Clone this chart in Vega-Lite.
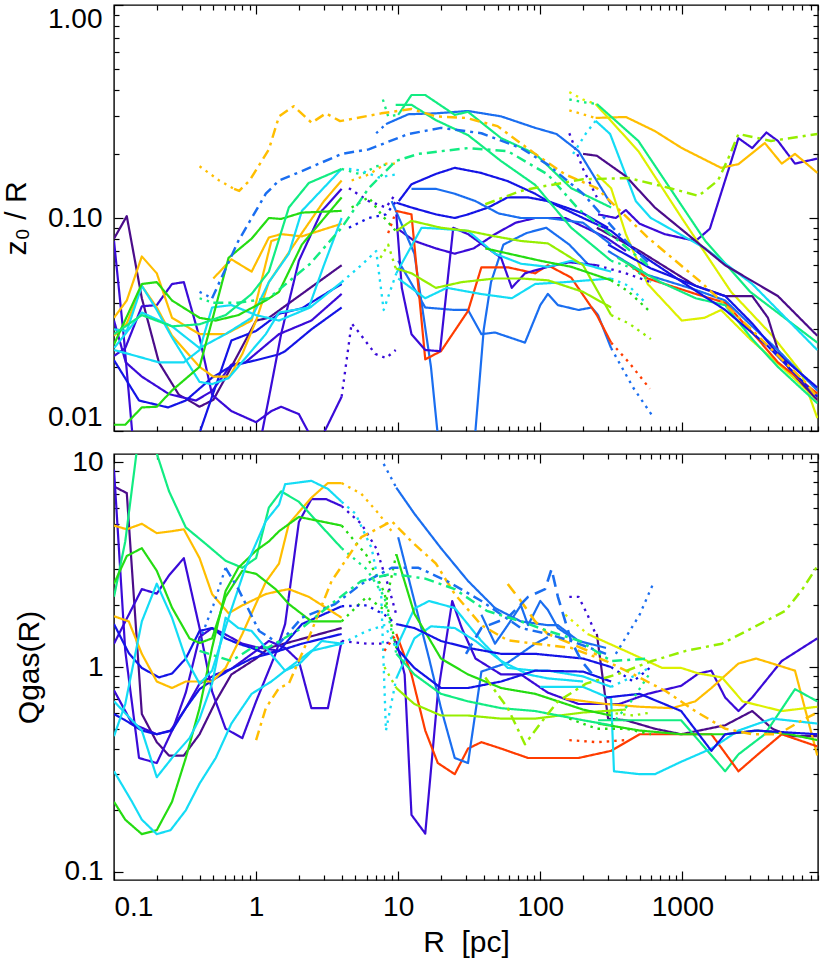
{
"$schema":"https://vega.github.io/schema/vega-lite/v6.json",
"background":"white",
"padding":{"left":0,"top":0,"right":3,"bottom":4},
"spacing":23,
"bounds":"flush",
"config":{
 "font":"Liberation Sans",
 "view":{"stroke":"black","strokeWidth":1.4},
 "axis":{"domain":false,"grid":false,"tickColor":"black","tickWidth":1.2,"labelFont":"Liberation Sans","labelFontSize":28,"labelColor":"black","titleFont":"Liberation Sans","titleFontSize":30,"titleFontWeight":"normal","titleColor":"black","labelOverlap":false,"labelBound":false}
},
"datasets":{
"top":[
{"s":"t1a","c":"or","k":"dt","R":0.4,"v":0.175},{"s":"t1a","c":"or","k":"dt","R":0.55,"v":0.15},{"s":"t1a","c":"or","k":"dt","R":0.7,"v":0.137},
{"s":"t1","c":"or","k":"dd","R":0.7,"v":0.137},{"s":"t1","c":"or","k":"dd","R":0.76,"v":0.134},{"s":"t1","c":"or","k":"dd","R":0.9,"v":0.15},{"s":"t1","c":"or","k":"dd","R":1.23,"v":0.21},{"s":"t1","c":"or","k":"dd","R":1.45,"v":0.3},{"s":"t1","c":"or","k":"dd","R":1.84,"v":0.335},{"s":"t1","c":"or","k":"dd","R":2.46,"v":0.28},{"s":"t1","c":"or","k":"dd","R":3.1,"v":0.31},{"s":"t1","c":"or","k":"dd","R":3.9,"v":0.285},{"s":"t1","c":"or","k":"dd","R":7.6,"v":0.31},{"s":"t1","c":"or","k":"dd","R":12.4,"v":0.325},{"s":"t1","c":"or","k":"dd","R":18.4,"v":0.3},{"s":"t1","c":"or","k":"dd","R":30,"v":0.295},{"s":"t1","c":"or","k":"dd","R":50,"v":0.27},{"s":"t1","c":"or","k":"dd","R":92,"v":0.2},{"s":"t1","c":"or","k":"dd","R":150,"v":0.16},{"s":"t1","c":"or","k":"dd","R":250,"v":0.138},{"s":"t1","c":"or","k":"dd","R":570,"v":0.081},{"s":"t1","c":"or","k":"dd","R":1350,"v":0.05},{"s":"t1","c":"or","k":"dd","R":2900,"v":0.031},{"s":"t1","c":"or","k":"dd","R":7300,"v":0.017},{"s":"t1","c":"or","k":"dd","R":8900,"v":0.0144},
{"s":"t2a","c":"az","k":"dt","R":0.4,"v":0.045},{"s":"t2a","c":"az","k":"dt","R":0.49,"v":0.042},
{"s":"t2","c":"az","k":"dd","R":0.49,"v":0.042},{"s":"t2","c":"az","k":"dd","R":0.75,"v":0.078},{"s":"t2","c":"az","k":"dd","R":1.17,"v":0.13},{"s":"t2","c":"az","k":"dd","R":1.45,"v":0.15},{"s":"t2","c":"az","k":"dd","R":2.1,"v":0.166},{"s":"t2","c":"az","k":"dd","R":4,"v":0.2},{"s":"t2","c":"az","k":"dd","R":6.2,"v":0.21},{"s":"t2","c":"az","k":"dd","R":11.8,"v":0.248},{"s":"t2","c":"az","k":"dd","R":20,"v":0.265},{"s":"t2","c":"az","k":"dd","R":38.5,"v":0.25},{"s":"t2","c":"az","k":"dd","R":73,"v":0.213},{"s":"t2","c":"az","k":"dd","R":113,"v":0.178},{"s":"t2","c":"az","k":"dd","R":200,"v":0.13},{"s":"t2","c":"az","k":"dd","R":340,"v":0.087},{"s":"t2","c":"az","k":"dd","R":600,"v":0.06},
{"s":"t3a","c":"sg","k":"dt","R":0.4,"v":0.042},{"s":"t3a","c":"sg","k":"dt","R":0.5,"v":0.04},
{"s":"t3","c":"sg","k":"dd","R":0.5,"v":0.04},{"s":"t3","c":"sg","k":"dd","R":0.75,"v":0.04},{"s":"t3","c":"sg","k":"dd","R":1.23,"v":0.042},{"s":"t3","c":"sg","k":"dd","R":2.4,"v":0.061},{"s":"t3","c":"sg","k":"dd","R":4,"v":0.09},{"s":"t3","c":"sg","k":"dd","R":6.2,"v":0.138},{"s":"t3","c":"sg","k":"dd","R":9.6,"v":0.185},{"s":"t3","c":"sg","k":"dd","R":13.9,"v":0.2},{"s":"t3","c":"sg","k":"dd","R":31,"v":0.213},{"s":"t3","c":"sg","k":"dd","R":59,"v":0.206},{"s":"t3","c":"sg","k":"dd","R":113,"v":0.16},{"s":"t3","c":"sg","k":"dd","R":186,"v":0.11},{"s":"t3","c":"sg","k":"dd","R":340,"v":0.08},{"s":"t3","c":"sg","k":"dd","R":570,"v":0.06},
{"s":"t4","c":"ch","k":"dd","R":41,"v":0.116},{"s":"t4","c":"ch","k":"dd","R":73,"v":0.134},{"s":"t4","c":"ch","k":"dd","R":100,"v":0.14},{"s":"t4","c":"ch","k":"dd","R":200,"v":0.152},{"s":"t4","c":"ch","k":"dd","R":420,"v":0.154},{"s":"t4","c":"ch","k":"dd","R":820,"v":0.138},{"s":"t4","c":"ch","k":"dd","R":1300,"v":0.127},{"s":"t4","c":"ch","k":"dd","R":1780,"v":0.15},{"s":"t4","c":"ch","k":"dd","R":2100,"v":0.19},{"s":"t4","c":"ch","k":"dd","R":2480,"v":0.248},{"s":"t4","c":"ch","k":"dd","R":4200,"v":0.23},{"s":"t4","c":"ch","k":"dd","R":8900,"v":0.248},
{"s":"t5a","c":"vi","k":"dt","R":160,"v":0.25},{"s":"t5a","c":"vi","k":"dt","R":200,"v":0.17},{"s":"t5a","c":"vi","k":"dt","R":250,"v":0.125},
{"s":"t5","c":"vi","k":"so","R":255,"v":0.104},{"s":"t5","c":"vi","k":"so","R":340,"v":0.1},{"s":"t5","c":"vi","k":"so","R":400,"v":0.109},{"s":"t5","c":"vi","k":"so","R":500,"v":0.094},{"s":"t5","c":"vi","k":"so","R":750,"v":0.084},{"s":"t5","c":"vi","k":"so","R":1240,"v":0.078},{"s":"t5","c":"vi","k":"so","R":1560,"v":0.089},{"s":"t5","c":"vi","k":"so","R":2480,"v":0.237},{"s":"t5","c":"vi","k":"so","R":3100,"v":0.213},{"s":"t5","c":"vi","k":"so","R":3900,"v":0.252},{"s":"t5","c":"vi","k":"so","R":4700,"v":0.23},{"s":"t5","c":"vi","k":"so","R":6200,"v":0.18},{"s":"t5","c":"vi","k":"so","R":8900,"v":0.19},
{"s":"t6a","c":"or","k":"dt","R":160,"v":0.32},{"s":"t6a","c":"or","k":"dt","R":245,"v":0.295},
{"s":"t6","c":"or","k":"so","R":245,"v":0.295},{"s":"t6","c":"or","k":"so","R":400,"v":0.298},{"s":"t6","c":"or","k":"so","R":640,"v":0.256},{"s":"t6","c":"or","k":"so","R":990,"v":0.213},{"s":"t6","c":"or","k":"so","R":1870,"v":0.172},{"s":"t6","c":"or","k":"so","R":2480,"v":0.179},{"s":"t6","c":"or","k":"so","R":3800,"v":0.225},{"s":"t6","c":"or","k":"so","R":5000,"v":0.18},{"s":"t6","c":"or","k":"so","R":6200,"v":0.2},{"s":"t6","c":"or","k":"so","R":8900,"v":0.163},
{"s":"t7a","c":"ye","k":"dt","R":160,"v":0.39},{"s":"t7a","c":"ye","k":"dt","R":200,"v":0.36},{"s":"t7a","c":"ye","k":"dt","R":245,"v":0.343},
{"s":"t7","c":"ye","k":"so","R":245,"v":0.343},{"s":"t7","c":"ye","k":"so","R":490,"v":0.206},{"s":"t7","c":"ye","k":"so","R":990,"v":0.1},{"s":"t7","c":"ye","k":"so","R":2200,"v":0.045},{"s":"t7","c":"ye","k":"so","R":4300,"v":0.028},{"s":"t7","c":"ye","k":"so","R":6800,"v":0.019},{"s":"t7","c":"ye","k":"so","R":8900,"v":0.0115},
{"s":"t7b","c":"ye","k":"so","R":250,"v":0.16},{"s":"t7b","c":"ye","k":"so","R":315,"v":0.138},{"s":"t7b","c":"ye","k":"so","R":400,"v":0.084},{"s":"t7b","c":"ye","k":"so","R":570,"v":0.049},{"s":"t7b","c":"ye","k":"so","R":990,"v":0.033},{"s":"t7b","c":"ye","k":"so","R":1430,"v":0.034},{"s":"t7b","c":"ye","k":"so","R":1870,"v":0.037},{"s":"t7b","c":"ye","k":"so","R":3000,"v":0.027},{"s":"t7b","c":"ye","k":"so","R":5000,"v":0.02},{"s":"t7b","c":"ye","k":"so","R":8900,"v":0.014},
{"s":"t8a","c":"sg","k":"dt","R":160,"v":0.36},{"s":"t8a","c":"sg","k":"dt","R":200,"v":0.35},{"s":"t8a","c":"sg","k":"dt","R":250,"v":0.343},
{"s":"t8","c":"sg","k":"so","R":250,"v":0.343},{"s":"t8","c":"sg","k":"so","R":490,"v":0.23},{"s":"t8","c":"sg","k":"so","R":1450,"v":0.078},{"s":"t8","c":"sg","k":"so","R":3000,"v":0.045},{"s":"t8","c":"sg","k":"so","R":8900,"v":0.026},
{"s":"t9a","c":"cy","k":"dt","R":170,"v":0.2},{"s":"t9a","c":"cy","k":"dt","R":210,"v":0.25},{"s":"t9a","c":"cy","k":"dt","R":245,"v":0.286},
{"s":"t9","c":"cy","k":"so","R":245,"v":0.286},{"s":"t9","c":"cy","k":"so","R":310,"v":0.248},{"s":"t9","c":"cy","k":"so","R":470,"v":0.12},{"s":"t9","c":"cy","k":"so","R":600,"v":0.1},{"s":"t9","c":"cy","k":"so","R":1450,"v":0.072},{"s":"t9","c":"cy","k":"so","R":3100,"v":0.049},{"s":"t9","c":"cy","k":"so","R":8900,"v":0.024},
{"s":"t10","c":"pu","k":"so","R":200,"v":0.2},{"s":"t10","c":"pu","k":"so","R":250,"v":0.196},{"s":"t10","c":"pu","k":"so","R":400,"v":0.157},{"s":"t10","c":"pu","k":"so","R":640,"v":0.112},{"s":"t10","c":"pu","k":"so","R":1240,"v":0.078},{"s":"t10","c":"pu","k":"so","R":2000,"v":0.06},{"s":"t10","c":"pu","k":"so","R":4700,"v":0.043},{"s":"t10","c":"pu","k":"so","R":8900,"v":0.028},
{"s":"t11","c":"pu","k":"so","R":250,"v":0.09},{"s":"t11","c":"pu","k":"so","R":500,"v":0.07},{"s":"t11","c":"pu","k":"so","R":1240,"v":0.048},{"s":"t11","c":"pu","k":"so","R":2000,"v":0.043},{"s":"t11","c":"pu","k":"so","R":3100,"v":0.043},{"s":"t11","c":"pu","k":"so","R":4000,"v":0.034},{"s":"t11","c":"pu","k":"so","R":4700,"v":0.024},{"s":"t11","c":"pu","k":"so","R":5800,"v":0.019},{"s":"t11","c":"pu","k":"so","R":8900,"v":0.014},
{"s":"b1","c":"rd","k":"so","R":400,"v":0.062},{"s":"b1","c":"rd","k":"so","R":570,"v":0.052},{"s":"b1","c":"rd","k":"so","R":1240,"v":0.044},{"s":"b1","c":"rd","k":"so","R":2000,"v":0.04},{"s":"b1","c":"rd","k":"so","R":3100,"v":0.029},{"s":"b1","c":"rd","k":"so","R":4700,"v":0.021},{"s":"b1","c":"rd","k":"so","R":8900,"v":0.015},
{"s":"b2","c":"az","k":"so","R":300,"v":0.07},{"s":"b2","c":"az","k":"so","R":570,"v":0.054},{"s":"b2","c":"az","k":"so","R":1240,"v":0.046},{"s":"b2","c":"az","k":"so","R":2000,"v":0.041},{"s":"b2","c":"az","k":"so","R":3100,"v":0.031},{"s":"b2","c":"az","k":"so","R":4700,"v":0.024},{"s":"b2","c":"az","k":"so","R":8900,"v":0.0155},
{"s":"b3","c":"sg","k":"so","R":350,"v":0.065},{"s":"b3","c":"sg","k":"so","R":700,"v":0.05},{"s":"b3","c":"sg","k":"so","R":1240,"v":0.042},{"s":"b3","c":"sg","k":"so","R":2000,"v":0.039},{"s":"b3","c":"sg","k":"so","R":3100,"v":0.027},{"s":"b3","c":"sg","k":"so","R":4700,"v":0.02},{"s":"b3","c":"sg","k":"so","R":8900,"v":0.0135},
{"s":"b4","c":"bl","k":"so","R":300,"v":0.075},{"s":"b4","c":"bl","k":"so","R":600,"v":0.058},{"s":"b4","c":"bl","k":"so","R":1240,"v":0.048},{"s":"b4","c":"bl","k":"so","R":2000,"v":0.043},{"s":"b4","c":"bl","k":"so","R":3100,"v":0.032},{"s":"b4","c":"bl","k":"so","R":4700,"v":0.023},{"s":"b4","c":"bl","k":"so","R":8900,"v":0.016},
{"s":"m1","c":"bl","k":"so","R":10.1,"v":0.12},{"s":"m1","c":"bl","k":"so","R":12.4,"v":0.144},{"s":"m1","c":"bl","k":"so","R":18.4,"v":0.161},{"s":"m1","c":"bl","k":"so","R":25,"v":0.172},{"s":"m1","c":"bl","k":"so","R":38,"v":0.163},{"s":"m1","c":"bl","k":"so","R":59,"v":0.149},{"s":"m1","c":"bl","k":"so","R":92,"v":0.13},{"s":"m1","c":"bl","k":"so","R":113,"v":0.12},{"s":"m1","c":"bl","k":"so","R":200,"v":0.1},{"s":"m1","c":"bl","k":"so","R":315,"v":0.087},{"s":"m1","c":"bl","k":"so","R":500,"v":0.068},{"s":"m1","c":"bl","k":"so","R":1000,"v":0.05},{"s":"m1","c":"bl","k":"so","R":2000,"v":0.037},{"s":"m1","c":"bl","k":"so","R":4000,"v":0.025},{"s":"m1","c":"bl","k":"so","R":8900,"v":0.0145},
{"s":"m2","c":"bl","k":"so","R":9.7,"v":0.118},{"s":"m2","c":"bl","k":"so","R":12.4,"v":0.112},{"s":"m2","c":"bl","k":"so","R":18.4,"v":0.104},{"s":"m2","c":"bl","k":"so","R":25,"v":0.1},{"s":"m2","c":"bl","k":"so","R":31,"v":0.104},{"s":"m2","c":"bl","k":"so","R":43,"v":0.112},{"s":"m2","c":"bl","k":"so","R":59,"v":0.125},{"s":"m2","c":"bl","k":"so","R":82,"v":0.125},{"s":"m2","c":"bl","k":"so","R":113,"v":0.12},{"s":"m2","c":"bl","k":"so","R":200,"v":0.105},{"s":"m2","c":"bl","k":"so","R":300,"v":0.09},
{"s":"m3","c":"vi","k":"so","R":9.7,"v":0.09},{"s":"m3","c":"vi","k":"so","R":13,"v":0.078},{"s":"m3","c":"vi","k":"so","R":18.4,"v":0.072},{"s":"m3","c":"vi","k":"so","R":25,"v":0.068},{"s":"m3","c":"vi","k":"so","R":34,"v":0.072},{"s":"m3","c":"vi","k":"so","R":48,"v":0.084},{"s":"m3","c":"vi","k":"so","R":67,"v":0.095},{"s":"m3","c":"vi","k":"so","R":92,"v":0.1},{"s":"m3","c":"vi","k":"so","R":150,"v":0.1},{"s":"m3","c":"vi","k":"so","R":290,"v":0.081},{"s":"m3","c":"vi","k":"so","R":400,"v":0.07},
{"s":"m4a","c":"az","k":"dt","R":7,"v":0.25},{"s":"m4a","c":"az","k":"dt","R":8.2,"v":0.276},
{"s":"m4","c":"az","k":"so","R":8.2,"v":0.276},{"s":"m4","c":"az","k":"so","R":11.8,"v":0.307},{"s":"m4","c":"az","k":"so","R":18.4,"v":0.31},{"s":"m4","c":"az","k":"so","R":31,"v":0.318},{"s":"m4","c":"az","k":"so","R":53,"v":0.3},{"s":"m4","c":"az","k":"so","R":92,"v":0.265},{"s":"m4","c":"az","k":"so","R":130,"v":0.248},{"s":"m4","c":"az","k":"so","R":186,"v":0.206},{"s":"m4","c":"az","k":"so","R":315,"v":0.116},
{"s":"m5","c":"az","k":"so","R":12.4,"v":0.137},{"s":"m5","c":"az","k":"so","R":18.4,"v":0.137},{"s":"m5","c":"az","k":"so","R":25,"v":0.13},{"s":"m5","c":"az","k":"so","R":35,"v":0.12},{"s":"m5","c":"az","k":"so","R":51,"v":0.105},{"s":"m5","c":"az","k":"so","R":73,"v":0.1},{"s":"m5","c":"az","k":"so","R":113,"v":0.1},{"s":"m5","c":"az","k":"so","R":200,"v":0.095},{"s":"m5","c":"az","k":"so","R":315,"v":0.075},
{"s":"m6","c":"az","k":"so","R":9,"v":0.12},{"s":"m6","c":"az","k":"so","R":13,"v":0.068},{"s":"m6","c":"az","k":"so","R":17,"v":0.02},{"s":"m6","c":"az","k":"so","R":19.5,"v":0.008},
{"s":"m7","c":"az","k":"so","R":34,"v":0.008},{"s":"m7","c":"az","k":"so","R":40,"v":0.03},{"s":"m7","c":"az","k":"so","R":45,"v":0.05},{"s":"m7","c":"az","k":"so","R":55,"v":0.075},{"s":"m7","c":"az","k":"so","R":80,"v":0.085},{"s":"m7","c":"az","k":"so","R":110,"v":0.09},{"s":"m7","c":"az","k":"so","R":160,"v":0.075},{"s":"m7","c":"az","k":"so","R":220,"v":0.06},
{"s":"m8","c":"az","k":"so","R":10,"v":0.063},{"s":"m8","c":"az","k":"so","R":15.5,"v":0.038},{"s":"m8","c":"az","k":"so","R":25,"v":0.037},{"s":"m8","c":"az","k":"so","R":31,"v":0.037},{"s":"m8","c":"az","k":"so","R":38.5,"v":0.0285},{"s":"m8","c":"az","k":"so","R":48,"v":0.029},{"s":"m8","c":"az","k":"so","R":78,"v":0.026},{"s":"m8","c":"az","k":"so","R":100,"v":0.039},{"s":"m8","c":"az","k":"so","R":113,"v":0.044},{"s":"m8","c":"az","k":"so","R":133,"v":0.039},{"s":"m8","c":"az","k":"so","R":186,"v":0.037},{"s":"m8","c":"az","k":"so","R":230,"v":0.038},{"s":"m8","c":"az","k":"so","R":255,"v":0.035},{"s":"m8","c":"az","k":"so","R":315,"v":0.0245},
{"s":"m8a","c":"az","k":"dt","R":315,"v":0.0245},{"s":"m8a","c":"az","k":"dt","R":450,"v":0.016},{"s":"m8a","c":"az","k":"dt","R":630,"v":0.0115},
{"s":"m9","c":"rd","k":"so","R":9.7,"v":0.108},{"s":"m9","c":"rd","k":"so","R":12.4,"v":0.104},{"s":"m9","c":"rd","k":"so","R":15.5,"v":0.0217},{"s":"m9","c":"rd","k":"so","R":20,"v":0.0237},{"s":"m9","c":"rd","k":"so","R":31,"v":0.0366},{"s":"m9","c":"rd","k":"so","R":38.5,"v":0.0587},{"s":"m9","c":"rd","k":"so","R":59,"v":0.0587},{"s":"m9","c":"rd","k":"so","R":92,"v":0.055},{"s":"m9","c":"rd","k":"so","R":113,"v":0.06},{"s":"m9","c":"rd","k":"so","R":165,"v":0.0525},{"s":"m9","c":"rd","k":"so","R":250,"v":0.035},{"s":"m9","c":"rd","k":"so","R":315,"v":0.026},
{"s":"m9a","c":"rd","k":"dt","R":315,"v":0.026},{"s":"m9a","c":"rd","k":"dt","R":420,"v":0.021},{"s":"m9a","c":"rd","k":"dt","R":590,"v":0.0158},
{"s":"m10","c":"vi","k":"so","R":9.7,"v":0.104},{"s":"m10","c":"vi","k":"so","R":10.6,"v":0.047},{"s":"m10","c":"vi","k":"so","R":12.4,"v":0.0285},{"s":"m10","c":"vi","k":"so","R":15.5,"v":0.024},{"s":"m10","c":"vi","k":"so","R":19.7,"v":0.0237},{"s":"m10","c":"vi","k":"so","R":24.4,"v":0.09},{"s":"m10","c":"vi","k":"so","R":31,"v":0.084},{"s":"m10","c":"vi","k":"so","R":53,"v":0.065},{"s":"m10","c":"vi","k":"so","R":63,"v":0.047},{"s":"m10","c":"vi","k":"so","R":78,"v":0.055},{"s":"m10","c":"vi","k":"so","R":113,"v":0.059},{"s":"m10","c":"vi","k":"so","R":160,"v":0.062},{"s":"m10","c":"vi","k":"so","R":250,"v":0.06},
{"s":"m10a","c":"vi","k":"dt","R":250,"v":0.06},{"s":"m10a","c":"vi","k":"dt","R":400,"v":0.055},{"s":"m10a","c":"vi","k":"dt","R":600,"v":0.05},
{"s":"m11","c":"cy","k":"so","R":9.7,"v":0.055},{"s":"m11","c":"cy","k":"so","R":14.6,"v":0.09},{"s":"m11","c":"cy","k":"so","R":20,"v":0.089},{"s":"m11","c":"cy","k":"so","R":31,"v":0.087},{"s":"m11","c":"cy","k":"so","R":48,"v":0.068},{"s":"m11","c":"cy","k":"so","R":73,"v":0.061},{"s":"m11","c":"cy","k":"so","R":113,"v":0.059},{"s":"m11","c":"cy","k":"so","R":165,"v":0.063},{"s":"m11","c":"cy","k":"so","R":315,"v":0.056},
{"s":"m12","c":"cy","k":"so","R":10,"v":0.052},{"s":"m12","c":"cy","k":"so","R":15.5,"v":0.042},{"s":"m12","c":"cy","k":"so","R":22,"v":0.047},{"s":"m12","c":"cy","k":"so","R":38,"v":0.044},{"s":"m12","c":"cy","k":"so","R":63,"v":0.042},{"s":"m12","c":"cy","k":"so","R":92,"v":0.049},{"s":"m12","c":"cy","k":"so","R":150,"v":0.05},{"s":"m12","c":"cy","k":"so","R":315,"v":0.052},
{"s":"m12a","c":"cy","k":"dt","R":315,"v":0.052},{"s":"m12a","c":"cy","k":"dt","R":420,"v":0.048},{"s":"m12a","c":"cy","k":"dt","R":550,"v":0.04},
{"s":"m13","c":"ch","k":"so","R":9.7,"v":0.087},{"s":"m13","c":"ch","k":"so","R":12.4,"v":0.097},{"s":"m13","c":"ch","k":"so","R":20,"v":0.09},{"s":"m13","c":"ch","k":"so","R":31,"v":0.087},{"s":"m13","c":"ch","k":"so","R":48,"v":0.082},{"s":"m13","c":"ch","k":"so","R":73,"v":0.078},{"s":"m13","c":"ch","k":"so","R":113,"v":0.076},{"s":"m13","c":"ch","k":"so","R":200,"v":0.06},{"s":"m13","c":"ch","k":"so","R":315,"v":0.035},
{"s":"m13a","c":"ch","k":"dt","R":315,"v":0.035},{"s":"m13a","c":"ch","k":"dt","R":420,"v":0.032},{"s":"m13a","c":"ch","k":"dt","R":600,"v":0.027},
{"s":"m14","c":"ch","k":"so","R":9.6,"v":0.058},{"s":"m14","c":"ch","k":"so","R":12.4,"v":0.055},{"s":"m14","c":"ch","k":"so","R":18.4,"v":0.047},{"s":"m14","c":"ch","k":"so","R":28,"v":0.05},{"s":"m14","c":"ch","k":"so","R":48,"v":0.052},{"s":"m14","c":"ch","k":"so","R":73,"v":0.052},{"s":"m14","c":"ch","k":"so","R":113,"v":0.051},{"s":"m14","c":"ch","k":"so","R":200,"v":0.045},{"s":"m14","c":"ch","k":"so","R":315,"v":0.038},
{"s":"m15","c":"gr","k":"so","R":41,"v":0.072},{"s":"m15","c":"gr","k":"so","R":100,"v":0.063},{"s":"m15","c":"gr","k":"so","R":165,"v":0.059},{"s":"m15","c":"gr","k":"so","R":315,"v":0.051},
{"s":"m15a","c":"gr","k":"dt","R":315,"v":0.051},{"s":"m15a","c":"gr","k":"dt","R":420,"v":0.045},{"s":"m15a","c":"gr","k":"dt","R":600,"v":0.036},
{"s":"m16a","c":"sg","k":"dt","R":7.8,"v":0.36},{"s":"m16a","c":"sg","k":"dt","R":8.5,"v":0.3},{"s":"m16a","c":"sg","k":"dt","R":10,"v":0.305},
{"s":"m16","c":"sg","k":"so","R":10,"v":0.305},{"s":"m16","c":"sg","k":"so","R":12.4,"v":0.378},{"s":"m16","c":"sg","k":"so","R":15.5,"v":0.378},{"s":"m16","c":"sg","k":"so","R":25,"v":0.305},{"s":"m16","c":"sg","k":"so","R":31,"v":0.315},{"s":"m16","c":"sg","k":"so","R":53,"v":0.237},{"s":"m16","c":"sg","k":"so","R":92,"v":0.2},{"s":"m16","c":"sg","k":"so","R":100,"v":0.19},{"s":"m16","c":"sg","k":"so","R":165,"v":0.138},{"s":"m16","c":"sg","k":"so","R":315,"v":0.112},
{"s":"m17","c":"sg","k":"so","R":9.6,"v":0.34},{"s":"m17","c":"sg","k":"so","R":12.4,"v":0.34},{"s":"m17","c":"sg","k":"so","R":18.4,"v":0.288},{"s":"m17","c":"sg","k":"so","R":31,"v":0.245},{"s":"m17","c":"sg","k":"so","R":53,"v":0.185},{"s":"m17","c":"sg","k":"so","R":92,"v":0.143},{"s":"m17","c":"sg","k":"so","R":165,"v":0.09},{"s":"m17","c":"sg","k":"so","R":315,"v":0.063},
{"s":"m17a","c":"sg","k":"dt","R":315,"v":0.063},{"s":"m17a","c":"sg","k":"dt","R":450,"v":0.058},{"s":"m17a","c":"sg","k":"dt","R":600,"v":0.05},
{"s":"l1","c":"pu","k":"so","R":0.1,"v":0.08},{"s":"l1","c":"pu","k":"so","R":0.123,"v":0.102},{"s":"l1","c":"pu","k":"so","R":0.157,"v":0.042},{"s":"l1","c":"pu","k":"so","R":0.207,"v":0.021},{"s":"l1","c":"pu","k":"so","R":0.286,"v":0.0148},{"s":"l1","c":"pu","k":"so","R":0.4,"v":0.013},{"s":"l1","c":"pu","k":"so","R":0.5,"v":0.014},{"s":"l1","c":"pu","k":"so","R":0.67,"v":0.02},{"s":"l1","c":"pu","k":"so","R":1,"v":0.033},{"s":"l1","c":"pu","k":"so","R":1.23,"v":0.034},{"s":"l1","c":"pu","k":"so","R":2,"v":0.043},{"s":"l1","c":"pu","k":"so","R":4,"v":0.06},
{"s":"l2","c":"vi","k":"so","R":0.1,"v":0.078},{"s":"l2","c":"vi","k":"so","R":0.117,"v":0.028},{"s":"l2","c":"vi","k":"so","R":0.135,"v":0.0095},
{"s":"l3","c":"vi","k":"so","R":0.1,"v":0.033},{"s":"l3","c":"vi","k":"so","R":0.121,"v":0.021},{"s":"l3","c":"vi","k":"so","R":0.157,"v":0.018},{"s":"l3","c":"vi","k":"so","R":0.244,"v":0.0149},{"s":"l3","c":"vi","k":"so","R":0.377,"v":0.0139},{"s":"l3","c":"vi","k":"so","R":0.49,"v":0.0154},{"s":"l3","c":"vi","k":"so","R":0.67,"v":0.0205},{"s":"l3","c":"vi","k":"so","R":0.84,"v":0.021},{"s":"l3","c":"vi","k":"so","R":1.45,"v":0.0285},{"s":"l3","c":"vi","k":"so","R":2.45,"v":0.033},{"s":"l3","c":"vi","k":"so","R":4,"v":0.044},
{"s":"l4","c":"vi","k":"so","R":0.1,"v":0.0225},{"s":"l4","c":"vi","k":"so","R":0.12,"v":0.0245},{"s":"l4","c":"vi","k":"so","R":0.157,"v":0.0385},{"s":"l4","c":"vi","k":"so","R":0.2,"v":0.039},{"s":"l4","c":"vi","k":"so","R":0.256,"v":0.049},{"s":"l4","c":"vi","k":"so","R":0.31,"v":0.05},{"s":"l4","c":"vi","k":"so","R":0.4,"v":0.0275},{"s":"l4","c":"vi","k":"so","R":0.49,"v":0.0148},{"s":"l4","c":"vi","k":"so","R":0.67,"v":0.0124},{"s":"l4","c":"vi","k":"so","R":1,"v":0.011},{"s":"l4","c":"vi","k":"so","R":1.28,"v":0.0124},{"s":"l4","c":"vi","k":"so","R":1.5,"v":0.013},{"s":"l4","c":"vi","k":"so","R":2,"v":0.012},{"s":"l4","c":"vi","k":"so","R":2.35,"v":0.0098},
{"s":"l4b","c":"vi","k":"so","R":3,"v":0.0098},{"s":"l4b","c":"vi","k":"so","R":4,"v":0.0145},
{"s":"l4c","c":"vi","k":"dt","R":4,"v":0.0145},{"s":"l4c","c":"vi","k":"dt","R":4.7,"v":0.032},{"s":"l4c","c":"vi","k":"dt","R":5.3,"v":0.029},{"s":"l4c","c":"vi","k":"dt","R":6.9,"v":0.023},{"s":"l4c","c":"vi","k":"dt","R":8.2,"v":0.022},{"s":"l4c","c":"vi","k":"dt","R":9.6,"v":0.024},
{"s":"l5","c":"bl","k":"so","R":0.1,"v":0.0215},{"s":"l5","c":"bl","k":"so","R":0.15,"v":0.0139},{"s":"l5","c":"bl","k":"so","R":0.24,"v":0.0129},{"s":"l5","c":"bl","k":"so","R":0.32,"v":0.0139},{"s":"l5","c":"bl","k":"so","R":0.49,"v":0.0178},{"s":"l5","c":"bl","k":"so","R":0.67,"v":0.0202},{"s":"l5","c":"bl","k":"so","R":1,"v":0.0215},{"s":"l5","c":"bl","k":"so","R":1.45,"v":0.0229},{"s":"l5","c":"bl","k":"so","R":1.6,"v":0.0237},{"s":"l5","c":"bl","k":"so","R":2.45,"v":0.03},{"s":"l5","c":"bl","k":"so","R":4,"v":0.038},
{"s":"l6","c":"bl","k":"so","R":0.4,"v":0.0098},{"s":"l6","c":"bl","k":"so","R":0.67,"v":0.0266},{"s":"l6","c":"bl","k":"so","R":1,"v":0.0295},{"s":"l6","c":"bl","k":"so","R":1.45,"v":0.0355},{"s":"l6","c":"bl","k":"so","R":2.1,"v":0.0377},{"s":"l6","c":"bl","k":"so","R":4,"v":0.049},
{"s":"l7","c":"vi","k":"so","R":1.1,"v":0.0098},{"s":"l7","c":"vi","k":"so","R":1.23,"v":0.0143},{"s":"l7","c":"vi","k":"so","R":1.5,"v":0.0285},{"s":"l7","c":"vi","k":"so","R":2,"v":0.063},{"s":"l7","c":"vi","k":"so","R":2.9,"v":0.108},{"s":"l7","c":"vi","k":"so","R":4,"v":0.137},
{"s":"l8","c":"or","k":"so","R":0.1,"v":0.034},{"s":"l8","c":"or","k":"so","R":0.123,"v":0.041},{"s":"l8","c":"or","k":"so","R":0.157,"v":0.066},{"s":"l8","c":"or","k":"so","R":0.2,"v":0.055},{"s":"l8","c":"or","k":"so","R":0.256,"v":0.034},{"s":"l8","c":"or","k":"so","R":0.4,"v":0.0285},{"s":"l8","c":"or","k":"so","R":0.61,"v":0.0285},{"s":"l8","c":"or","k":"so","R":0.93,"v":0.033},{"s":"l8","c":"or","k":"so","R":1.28,"v":0.078},{"s":"l8","c":"or","k":"so","R":1.45,"v":0.08},
{"s":"l9","c":"or","k":"so","R":0.1,"v":0.028},{"s":"l9","c":"or","k":"so","R":0.123,"v":0.032},{"s":"l9","c":"or","k":"so","R":0.157,"v":0.048},{"s":"l9","c":"or","k":"so","R":0.2,"v":0.038},{"s":"l9","c":"or","k":"so","R":0.256,"v":0.028},{"s":"l9","c":"or","k":"so","R":0.4,"v":0.02},{"s":"l9","c":"or","k":"so","R":0.5,"v":0.018},{"s":"l9","c":"or","k":"so","R":0.65,"v":0.018},{"s":"l9","c":"or","k":"so","R":0.8,"v":0.023},{"s":"l9","c":"or","k":"so","R":1,"v":0.033},{"s":"l9","c":"or","k":"so","R":1.23,"v":0.05},{"s":"l9","c":"or","k":"so","R":2.1,"v":0.085},{"s":"l9","c":"or","k":"so","R":3,"v":0.12},{"s":"l9","c":"or","k":"so","R":4,"v":0.15},
{"s":"l10","c":"or","k":"so","R":0.5,"v":0.052},{"s":"l10","c":"or","k":"so","R":0.67,"v":0.064},{"s":"l10","c":"or","k":"so","R":0.93,"v":0.056},{"s":"l10","c":"or","k":"so","R":1.23,"v":0.081},{"s":"l10","c":"or","k":"so","R":1.5,"v":0.084},{"s":"l10","c":"or","k":"so","R":2.1,"v":0.082},{"s":"l10","c":"or","k":"so","R":4,"v":0.094},
{"s":"l11","c":"cy","k":"so","R":0.1,"v":0.0245},{"s":"l11","c":"cy","k":"so","R":0.12,"v":0.0285},{"s":"l11","c":"cy","k":"so","R":0.157,"v":0.036},{"s":"l11","c":"cy","k":"so","R":0.256,"v":0.031},{"s":"l11","c":"cy","k":"so","R":0.4,"v":0.0245},{"s":"l11","c":"cy","k":"so","R":0.61,"v":0.0285},{"s":"l11","c":"cy","k":"so","R":0.93,"v":0.034},{"s":"l11","c":"cy","k":"so","R":1.23,"v":0.05},{"s":"l11","c":"cy","k":"so","R":1.7,"v":0.068},{"s":"l11","c":"cy","k":"so","R":2.1,"v":0.108},{"s":"l11","c":"cy","k":"so","R":4,"v":0.17},
{"s":"l12","c":"cy","k":"so","R":0.1,"v":0.03},{"s":"l12","c":"cy","k":"so","R":0.123,"v":0.0295},{"s":"l12","c":"cy","k":"so","R":0.157,"v":0.048},{"s":"l12","c":"cy","k":"so","R":0.2,"v":0.037},{"s":"l12","c":"cy","k":"so","R":0.256,"v":0.0275},{"s":"l12","c":"cy","k":"so","R":0.4,"v":0.017},{"s":"l12","c":"cy","k":"so","R":0.49,"v":0.0166},{"s":"l12","c":"cy","k":"so","R":0.64,"v":0.0177},{"s":"l12","c":"cy","k":"so","R":0.89,"v":0.023},{"s":"l12","c":"cy","k":"so","R":1.17,"v":0.0285},{"s":"l12","c":"cy","k":"so","R":1.45,"v":0.036},{"s":"l12","c":"cy","k":"so","R":2.35,"v":0.038},{"s":"l12","c":"cy","k":"so","R":3,"v":0.06},{"s":"l12","c":"cy","k":"so","R":4,"v":0.1},
{"s":"l13","c":"cy","k":"so","R":0.1,"v":0.024},{"s":"l13","c":"cy","k":"so","R":0.127,"v":0.023},{"s":"l13","c":"cy","k":"so","R":0.207,"v":0.021},{"s":"l13","c":"cy","k":"so","R":0.31,"v":0.021},{"s":"l13","c":"cy","k":"so","R":0.4,"v":0.024},{"s":"l13","c":"cy","k":"so","R":0.49,"v":0.038},{"s":"l13","c":"cy","k":"so","R":0.67,"v":0.039},{"s":"l13","c":"cy","k":"so","R":1,"v":0.035},{"s":"l13","c":"cy","k":"so","R":1.45,"v":0.033},{"s":"l13","c":"cy","k":"so","R":2.4,"v":0.038},{"s":"l13","c":"cy","k":"so","R":4,"v":0.05},
{"s":"l14","c":"gr","k":"so","R":0.1,"v":0.0107},{"s":"l14","c":"gr","k":"so","R":0.12,"v":0.0107},{"s":"l14","c":"gr","k":"so","R":0.157,"v":0.0129},{"s":"l14","c":"gr","k":"so","R":0.2,"v":0.013},{"s":"l14","c":"gr","k":"so","R":0.256,"v":0.0155},{"s":"l14","c":"gr","k":"so","R":0.4,"v":0.02},{"s":"l14","c":"gr","k":"so","R":0.49,"v":0.033},{"s":"l14","c":"gr","k":"so","R":0.64,"v":0.065},{"s":"l14","c":"gr","k":"so","R":0.93,"v":0.08},{"s":"l14","c":"gr","k":"so","R":1.23,"v":0.1},{"s":"l14","c":"gr","k":"so","R":1.5,"v":0.099},{"s":"l14","c":"gr","k":"so","R":2.1,"v":0.106},{"s":"l14","c":"gr","k":"so","R":4,"v":0.108},
{"s":"l15","c":"gr","k":"so","R":0.1,"v":0.0255},{"s":"l15","c":"gr","k":"so","R":0.157,"v":0.049},{"s":"l15","c":"gr","k":"so","R":0.2,"v":0.05},{"s":"l15","c":"gr","k":"so","R":0.256,"v":0.041},{"s":"l15","c":"gr","k":"so","R":0.4,"v":0.034},{"s":"l15","c":"gr","k":"so","R":0.52,"v":0.033},{"s":"l15","c":"gr","k":"so","R":0.75,"v":0.035},{"s":"l15","c":"gr","k":"so","R":1.17,"v":0.041},{"s":"l15","c":"gr","k":"so","R":1.45,"v":0.045},{"s":"l15","c":"gr","k":"so","R":2.1,"v":0.075},{"s":"l15","c":"gr","k":"so","R":4,"v":0.125},
{"s":"l16","c":"sg","k":"so","R":0.1,"v":0.0285},{"s":"l16","c":"sg","k":"so","R":0.157,"v":0.035},{"s":"l16","c":"sg","k":"so","R":0.256,"v":0.031},{"s":"l16","c":"sg","k":"so","R":0.4,"v":0.0317},{"s":"l16","c":"sg","k":"so","R":0.61,"v":0.035},{"s":"l16","c":"sg","k":"so","R":0.93,"v":0.044},{"s":"l16","c":"sg","k":"so","R":1.23,"v":0.056},{"s":"l16","c":"sg","k":"so","R":1.7,"v":0.112},{"s":"l16","c":"sg","k":"so","R":2.35,"v":0.146},{"s":"l16","c":"sg","k":"so","R":4,"v":0.17},
{"s":"d1","c":"sg","k":"dt","R":4,"v":0.17},{"s":"d1","c":"sg","k":"dt","R":5.5,"v":0.16},{"s":"d1","c":"sg","k":"dt","R":7,"v":0.175},{"s":"d1","c":"sg","k":"dt","R":9,"v":0.18},
{"s":"d2","c":"cy","k":"dt","R":4.5,"v":0.17},{"s":"d2","c":"cy","k":"dt","R":5.5,"v":0.167},{"s":"d2","c":"cy","k":"dt","R":7.3,"v":0.155},{"s":"d2","c":"cy","k":"dt","R":9.6,"v":0.16},
{"s":"d3","c":"or","k":"dt","R":4.7,"v":0.15},{"s":"d3","c":"or","k":"dt","R":6.2,"v":0.16},{"s":"d3","c":"or","k":"dt","R":8.2,"v":0.18},{"s":"d3","c":"or","k":"dt","R":9.6,"v":0.18},
{"s":"d4","c":"vi","k":"dt","R":4.5,"v":0.138},{"s":"d4","c":"vi","k":"dt","R":6.2,"v":0.12},{"s":"d4","c":"vi","k":"dt","R":8.2,"v":0.112},{"s":"d4","c":"vi","k":"dt","R":9.6,"v":0.13},
{"s":"d5","c":"gr","k":"dt","R":4.7,"v":0.112},{"s":"d5","c":"gr","k":"dt","R":6.2,"v":0.125},{"s":"d5","c":"gr","k":"dt","R":7.6,"v":0.104},{"s":"d5","c":"gr","k":"dt","R":9.6,"v":0.087},
{"s":"d6","c":"bl","k":"dt","R":4.5,"v":0.09},{"s":"d6","c":"bl","k":"dt","R":6.2,"v":0.1},{"s":"d6","c":"bl","k":"dt","R":8.2,"v":0.104},{"s":"d6","c":"bl","k":"dt","R":9.7,"v":0.12},
{"s":"d7","c":"cy","k":"dt","R":4,"v":0.05},{"s":"d7","c":"cy","k":"dt","R":5.5,"v":0.06},{"s":"d7","c":"cy","k":"dt","R":7,"v":0.07},{"s":"d7","c":"cy","k":"dt","R":7.9,"v":0.037},{"s":"d7","c":"cy","k":"dt","R":9.7,"v":0.055},
{"s":"d8","c":"ch","k":"dt","R":7.5,"v":0.065},{"s":"d8","c":"ch","k":"dt","R":8.5,"v":0.075},{"s":"d8","c":"ch","k":"dt","R":9.6,"v":0.058},
{"s":"d9","c":"rd","k":"dt","R":8.5,"v":0.085},{"s":"d9","c":"rd","k":"dt","R":9.7,"v":0.108}
],
"bot":[
{"s":"q1","c":"pu","k":"so","R":0.1,"v":7.6},{"s":"q1","c":"pu","k":"so","R":0.123,"v":7.06},{"s":"q1","c":"pu","k":"so","R":0.157,"v":0.59},{"s":"q1","c":"pu","k":"so","R":0.2,"v":0.43},{"s":"q1","c":"pu","k":"so","R":0.244,"v":0.37},{"s":"q1","c":"pu","k":"so","R":0.31,"v":0.37},{"s":"q1","c":"pu","k":"so","R":0.4,"v":0.47},{"s":"q1","c":"pu","k":"so","R":0.52,"v":0.68},{"s":"q1","c":"pu","k":"so","R":0.67,"v":0.92},{"s":"q1","c":"pu","k":"so","R":1,"v":1.1},{"s":"q1","c":"pu","k":"so","R":1.23,"v":1.24},{"s":"q1","c":"pu","k":"so","R":4,"v":1.55},
{"s":"q1b","c":"vi","k":"dt","R":160,"v":2.2},{"s":"q1b","c":"vi","k":"dt","R":186,"v":2.2},{"s":"q1b","c":"vi","k":"dt","R":215,"v":1.8},{"s":"q1b","c":"vi","k":"dt","R":250,"v":1.4},
{"s":"q1c","c":"pu","k":"so","R":250,"v":1.45},{"s":"q1c","c":"pu","k":"so","R":300,"v":0.56},{"s":"q1c","c":"pu","k":"so","R":400,"v":0.55},{"s":"q1c","c":"pu","k":"so","R":640,"v":0.5},{"s":"q1c","c":"pu","k":"so","R":980,"v":0.47},{"s":"q1c","c":"pu","k":"so","R":2000,"v":0.52},{"s":"q1c","c":"pu","k":"so","R":3100,"v":0.61},{"s":"q1c","c":"pu","k":"so","R":4300,"v":0.5},{"s":"q1c","c":"pu","k":"so","R":5700,"v":0.46},{"s":"q1c","c":"pu","k":"so","R":8900,"v":0.46},
{"s":"q2","c":"vi","k":"so","R":0.1,"v":9.2},{"s":"q2","c":"vi","k":"so","R":0.12,"v":1.2},{"s":"q2","c":"vi","k":"so","R":0.15,"v":0.36},{"s":"q2","c":"vi","k":"so","R":0.2,"v":0.34},{"s":"q2","c":"vi","k":"so","R":0.26,"v":0.5},{"s":"q2","c":"vi","k":"so","R":0.32,"v":0.75},{"s":"q2","c":"vi","k":"so","R":0.4,"v":1.4},{"s":"q2","c":"vi","k":"so","R":0.49,"v":1.55},{"s":"q2","c":"vi","k":"so","R":0.6,"v":1.45},{"s":"q2","c":"vi","k":"so","R":0.8,"v":1.3},{"s":"q2","c":"vi","k":"so","R":1,"v":1.25},{"s":"q2","c":"vi","k":"so","R":1.45,"v":1.2},
{"s":"q3","c":"vi","k":"so","R":0.1,"v":1.3},{"s":"q3","c":"vi","k":"so","R":0.127,"v":1.8},{"s":"q3","c":"vi","k":"so","R":0.157,"v":2.4},{"s":"q3","c":"vi","k":"so","R":0.2,"v":2.28},{"s":"q3","c":"vi","k":"so","R":0.244,"v":2.8},{"s":"q3","c":"vi","k":"so","R":0.31,"v":3.4},{"s":"q3","c":"vi","k":"so","R":0.4,"v":1.55},{"s":"q3","c":"vi","k":"so","R":0.49,"v":0.76},{"s":"q3","c":"vi","k":"so","R":0.61,"v":0.5},{"s":"q3","c":"vi","k":"so","R":0.8,"v":0.45},{"s":"q3","c":"vi","k":"so","R":1,"v":0.68},{"s":"q3","c":"vi","k":"so","R":1.37,"v":1.16},{"s":"q3","c":"vi","k":"so","R":1.6,"v":1.62},{"s":"q3","c":"vi","k":"so","R":2,"v":5.1},{"s":"q3","c":"vi","k":"so","R":2.45,"v":6.6},{"s":"q3","c":"vi","k":"so","R":3.1,"v":6.6},{"s":"q3","c":"vi","k":"so","R":4,"v":6.1},
{"s":"q4","c":"vi","k":"so","R":0.1,"v":0.77},{"s":"q4","c":"vi","k":"so","R":0.134,"v":0.53},{"s":"q4","c":"vi","k":"so","R":0.2,"v":0.47},{"s":"q4","c":"vi","k":"so","R":0.25,"v":0.49},{"s":"q4","c":"vi","k":"so","R":0.32,"v":0.63},{"s":"q4","c":"vi","k":"so","R":0.4,"v":0.83},{"s":"q4","c":"vi","k":"so","R":0.52,"v":0.92},{"s":"q4","c":"vi","k":"so","R":0.67,"v":0.98},{"s":"q4","c":"vi","k":"so","R":1,"v":1.2},{"s":"q4","c":"vi","k":"so","R":1.23,"v":1.34},{"s":"q4","c":"vi","k":"so","R":1.6,"v":1.24},{"s":"q4","c":"vi","k":"so","R":2,"v":1.07},{"s":"q4","c":"vi","k":"so","R":2.45,"v":0.63},{"s":"q4","c":"vi","k":"so","R":3.2,"v":0.63},{"s":"q4","c":"vi","k":"so","R":4,"v":1.34},
{"s":"q5","c":"bl","k":"so","R":0.1,"v":1.62},{"s":"q5","c":"bl","k":"so","R":0.127,"v":1.17},{"s":"q5","c":"bl","k":"so","R":0.157,"v":0.99},{"s":"q5","c":"bl","k":"so","R":0.207,"v":0.89},{"s":"q5","c":"bl","k":"so","R":0.256,"v":0.93},{"s":"q5","c":"bl","k":"so","R":0.32,"v":1.1},{"s":"q5","c":"bl","k":"so","R":0.4,"v":1.5},{"s":"q5","c":"bl","k":"so","R":0.49,"v":1.55},{"s":"q5","c":"bl","k":"so","R":0.61,"v":1.38},{"s":"q5","c":"bl","k":"so","R":0.75,"v":1.3},{"s":"q5","c":"bl","k":"so","R":0.93,"v":1.24},{"s":"q5","c":"bl","k":"so","R":1.17,"v":1.16},{"s":"q5","c":"bl","k":"so","R":1.45,"v":1.2},{"s":"q5","c":"bl","k":"so","R":2.1,"v":1.62},{"s":"q5","c":"bl","k":"so","R":4,"v":1.98},
{"s":"q6","c":"bl","k":"so","R":0.1,"v":0.59},{"s":"q6","c":"bl","k":"so","R":0.12,"v":0.55},{"s":"q6","c":"bl","k":"so","R":0.157,"v":0.49},{"s":"q6","c":"bl","k":"so","R":0.2,"v":0.47},{"s":"q6","c":"bl","k":"so","R":0.256,"v":0.49},{"s":"q6","c":"bl","k":"so","R":0.32,"v":0.63},{"s":"q6","c":"bl","k":"so","R":0.4,"v":0.78},{"s":"q6","c":"bl","k":"so","R":0.49,"v":0.86},{"s":"q6","c":"bl","k":"so","R":0.67,"v":0.98},{"s":"q6","c":"bl","k":"so","R":0.93,"v":1.1},{"s":"q6","c":"bl","k":"so","R":1.45,"v":1.2},{"s":"q6","c":"bl","k":"so","R":2.1,"v":1.3},{"s":"q6","c":"bl","k":"so","R":4,"v":1.45},
{"s":"q7","c":"or","k":"so","R":0.1,"v":4.9},{"s":"q7","c":"or","k":"so","R":0.123,"v":4.7},{"s":"q7","c":"or","k":"so","R":0.157,"v":5},{"s":"q7","c":"or","k":"so","R":0.2,"v":4.5},{"s":"q7","c":"or","k":"so","R":0.256,"v":4.6},{"s":"q7","c":"or","k":"so","R":0.31,"v":4.7},{"s":"q7","c":"or","k":"so","R":0.4,"v":3.4},{"s":"q7","c":"or","k":"so","R":0.49,"v":2.27},{"s":"q7","c":"or","k":"so","R":0.64,"v":1.83},{"s":"q7","c":"or","k":"so","R":0.8,"v":2},{"s":"q7","c":"or","k":"so","R":1.17,"v":2.27},{"s":"q7","c":"or","k":"so","R":1.45,"v":2.35},{"s":"q7","c":"or","k":"so","R":1.7,"v":2.4},{"s":"q7","c":"or","k":"so","R":2.35,"v":2.2},{"s":"q7","c":"or","k":"so","R":4,"v":1.74},
{"s":"q8","c":"or","k":"so","R":0.1,"v":1.77},{"s":"q8","c":"or","k":"so","R":0.127,"v":1.67},{"s":"q8","c":"or","k":"so","R":0.157,"v":1.16},{"s":"q8","c":"or","k":"so","R":0.2,"v":0.85},{"s":"q8","c":"or","k":"so","R":0.256,"v":0.79},{"s":"q8","c":"or","k":"so","R":0.32,"v":0.85},{"s":"q8","c":"or","k":"so","R":0.49,"v":0.85},{"s":"q8","c":"or","k":"so","R":0.61,"v":0.99},{"s":"q8","c":"or","k":"so","R":0.8,"v":1.45},{"s":"q8","c":"or","k":"so","R":1.17,"v":2.6},{"s":"q8","c":"or","k":"so","R":1.45,"v":3.2},{"s":"q8","c":"or","k":"so","R":1.7,"v":5},{"s":"q8","c":"or","k":"so","R":2.45,"v":6.7},{"s":"q8","c":"or","k":"so","R":3.2,"v":7.9},{"s":"q8","c":"or","k":"so","R":4,"v":7.9},
{"s":"q8b","c":"or","k":"dt","R":4,"v":7.9},{"s":"q8b","c":"or","k":"dt","R":5.5,"v":7},{"s":"q8b","c":"or","k":"dt","R":7.3,"v":5.6},{"s":"q8b","c":"or","k":"dt","R":9,"v":4.6},
{"s":"q9","c":"or","k":"dd","R":1,"v":0.44},{"s":"q9","c":"or","k":"dd","R":1.17,"v":0.63},{"s":"q9","c":"or","k":"dd","R":1.45,"v":0.79},{"s":"q9","c":"or","k":"dd","R":1.7,"v":0.83},{"s":"q9","c":"or","k":"dd","R":2.35,"v":1.39},{"s":"q9","c":"or","k":"dd","R":3.4,"v":2.63},{"s":"q9","c":"or","k":"dd","R":5.5,"v":4.3},{"s":"q9","c":"or","k":"dd","R":9,"v":5.15},{"s":"q9","c":"or","k":"dd","R":12.4,"v":4.1},{"s":"q9","c":"or","k":"dd","R":18.4,"v":3.2},{"s":"q9","c":"or","k":"dd","R":25,"v":2.27},{"s":"q9","c":"or","k":"dd","R":38.5,"v":1.6},{"s":"q9","c":"or","k":"dd","R":59,"v":1.35},{"s":"q9","c":"or","k":"dd","R":92,"v":1.3},{"s":"q9","c":"or","k":"dd","R":165,"v":1.24},{"s":"q9","c":"or","k":"dd","R":290,"v":1.07},{"s":"q9","c":"or","k":"dd","R":440,"v":0.93},{"s":"q9","c":"or","k":"dd","R":770,"v":0.76},{"s":"q9","c":"or","k":"dd","R":1230,"v":0.61},{"s":"q9","c":"or","k":"dd","R":2000,"v":0.5},{"s":"q9","c":"or","k":"dd","R":3100,"v":0.47},{"s":"q9","c":"or","k":"dd","R":4700,"v":0.47},{"s":"q9","c":"or","k":"dd","R":7300,"v":0.56},{"s":"q9","c":"or","k":"dd","R":8900,"v":0.6},
{"s":"q9b","c":"or","k":"da","R":59,"v":2.54},{"s":"q9b","c":"or","k":"da","R":73,"v":2.1},{"s":"q9b","c":"or","k":"da","R":92,"v":1.67},{"s":"q9b","c":"or","k":"da","R":113,"v":1.45},{"s":"q9b","c":"or","k":"da","R":165,"v":1.3},{"s":"q9b","c":"or","k":"da","R":250,"v":1.15},
{"s":"q10a","c":"az","k":"dt","R":0.4,"v":1.34},{"s":"q10a","c":"az","k":"dt","R":0.5,"v":2},{"s":"q10a","c":"az","k":"dt","R":0.61,"v":3.05},
{"s":"q10","c":"az","k":"dd","R":0.61,"v":3.05},{"s":"q10","c":"az","k":"dd","R":0.75,"v":2.4},{"s":"q10","c":"az","k":"dd","R":1.05,"v":1.5},{"s":"q10","c":"az","k":"dd","R":1.45,"v":1.3},{"s":"q10","c":"az","k":"dd","R":2.1,"v":1.74},{"s":"q10","c":"az","k":"dd","R":3.6,"v":2.03},{"s":"q10","c":"az","k":"dd","R":5.5,"v":2.54},{"s":"q10","c":"az","k":"dd","R":9,"v":3.05},{"s":"q10","c":"az","k":"dd","R":13.9,"v":3.05},{"s":"q10","c":"az","k":"dd","R":22,"v":2.63},{"s":"q10","c":"az","k":"dd","R":38.5,"v":2.1},{"s":"q10","c":"az","k":"dd","R":73,"v":1.55},{"s":"q10","c":"az","k":"dd","R":113,"v":1.45},{"s":"q10","c":"az","k":"dd","R":165,"v":1.34},{"s":"q10","c":"az","k":"dd","R":290,"v":1.16},
{"s":"q11","c":"az","k":"da","R":30,"v":1.16},{"s":"q11","c":"az","k":"da","R":38.5,"v":1.55},{"s":"q11","c":"az","k":"da","R":59,"v":1.74},{"s":"q11","c":"az","k":"da","R":82,"v":2.2},{"s":"q11","c":"az","k":"da","R":108,"v":2.4},{"s":"q11","c":"az","k":"da","R":120,"v":3},{"s":"q11","c":"az","k":"da","R":133,"v":2.2},{"s":"q11","c":"az","k":"da","R":165,"v":1.34},{"s":"q11","c":"az","k":"da","R":195,"v":1.07},{"s":"q11","c":"az","k":"da","R":230,"v":0.93},
{"s":"q12","c":"sg","k":"dd","R":0.4,"v":1.2},{"s":"q12","c":"sg","k":"dd","R":0.67,"v":1.07},{"s":"q12","c":"sg","k":"dd","R":0.93,"v":1.24},{"s":"q12","c":"sg","k":"dd","R":1.23,"v":1.25},{"s":"q12","c":"sg","k":"dd","R":2.1,"v":1.55},{"s":"q12","c":"sg","k":"dd","R":3.6,"v":2.1},{"s":"q12","c":"sg","k":"dd","R":5.5,"v":2.63},{"s":"q12","c":"sg","k":"dd","R":9,"v":2.85},{"s":"q12","c":"sg","k":"dd","R":15.5,"v":2.7},{"s":"q12","c":"sg","k":"dd","R":25,"v":2.4},{"s":"q12","c":"sg","k":"dd","R":42,"v":1.88},{"s":"q12","c":"sg","k":"dd","R":73,"v":1.67},{"s":"q12","c":"sg","k":"dd","R":113,"v":1.5},{"s":"q12","c":"sg","k":"dd","R":190,"v":1.34},{"s":"q12","c":"sg","k":"dd","R":315,"v":1.07},{"s":"q12","c":"sg","k":"dd","R":570,"v":1.1},
{"s":"q13","c":"ch","k":"dd","R":41,"v":0.89},{"s":"q13","c":"ch","k":"dd","R":59,"v":0.63},{"s":"q13","c":"ch","k":"dd","R":78,"v":0.42},{"s":"q13","c":"ch","k":"dd","R":92,"v":0.49},{"s":"q13","c":"ch","k":"dd","R":100,"v":0.53},{"s":"q13","c":"ch","k":"dd","R":133,"v":0.68},{"s":"q13","c":"ch","k":"dd","R":210,"v":0.83},{"s":"q13","c":"ch","k":"dd","R":360,"v":0.93},{"s":"q13","c":"ch","k":"dd","R":610,"v":1.07},{"s":"q13","c":"ch","k":"dd","R":1060,"v":1.2},{"s":"q13","c":"ch","k":"dd","R":1900,"v":1.3},{"s":"q13","c":"ch","k":"dd","R":3100,"v":1.55},{"s":"q13","c":"ch","k":"dd","R":5300,"v":1.88},{"s":"q13","c":"ch","k":"dd","R":7000,"v":2.4},{"s":"q13","c":"ch","k":"dd","R":8900,"v":3.1},
{"s":"q14","c":"vi","k":"so","R":9.7,"v":1.34},{"s":"q14","c":"vi","k":"so","R":11.1,"v":0.92},{"s":"q14","c":"vi","k":"so","R":12.4,"v":0.19},{"s":"q14","c":"vi","k":"so","R":15.5,"v":0.154},{"s":"q14","c":"vi","k":"so","R":19,"v":0.74},{"s":"q14","c":"vi","k":"so","R":24,"v":2.1},{"s":"q14","c":"vi","k":"so","R":28,"v":1.55},{"s":"q14","c":"vi","k":"so","R":35,"v":1.1},{"s":"q14","c":"vi","k":"so","R":53,"v":0.92},{"s":"q14","c":"vi","k":"so","R":73,"v":0.92},{"s":"q14","c":"vi","k":"so","R":113,"v":0.75},{"s":"q14","c":"vi","k":"so","R":186,"v":0.66},{"s":"q14","c":"vi","k":"so","R":360,"v":0.66},{"s":"q14","c":"vi","k":"so","R":570,"v":0.74},{"s":"q14","c":"vi","k":"so","R":980,"v":0.81},{"s":"q14","c":"vi","k":"so","R":1300,"v":0.93},{"s":"q14","c":"vi","k":"so","R":1600,"v":0.96},{"s":"q14","c":"vi","k":"so","R":2000,"v":0.71},{"s":"q14","c":"vi","k":"so","R":2480,"v":0.61},{"s":"q14","c":"vi","k":"so","R":3100,"v":0.71},{"s":"q14","c":"vi","k":"so","R":5000,"v":1.07},{"s":"q14","c":"vi","k":"so","R":8900,"v":1.38},
{"s":"q15","c":"or","k":"so","R":150,"v":0.7},{"s":"q15","c":"or","k":"so","R":290,"v":0.66},{"s":"q15","c":"or","k":"so","R":500,"v":0.64},{"s":"q15","c":"or","k":"so","R":850,"v":0.63},{"s":"q15","c":"or","k":"so","R":1230,"v":0.68},{"s":"q15","c":"or","k":"so","R":1600,"v":0.79},{"s":"q15","c":"or","k":"so","R":2480,"v":1.04},{"s":"q15","c":"or","k":"so","R":3300,"v":1.1},{"s":"q15","c":"or","k":"so","R":4300,"v":1.04},{"s":"q15","c":"or","k":"so","R":6200,"v":0.96},{"s":"q15","c":"or","k":"so","R":8900,"v":0.37},
{"s":"q16a","c":"ye","k":"dt","R":150,"v":1.8},{"s":"q16a","c":"ye","k":"dt","R":215,"v":1.45},
{"s":"q16","c":"ye","k":"so","R":215,"v":1.45},{"s":"q16","c":"ye","k":"so","R":440,"v":1.16},{"s":"q16","c":"ye","k":"so","R":720,"v":0.99},{"s":"q16","c":"ye","k":"so","R":980,"v":0.99},{"s":"q16","c":"ye","k":"so","R":1300,"v":0.93},{"s":"q16","c":"ye","k":"so","R":1900,"v":0.89},{"s":"q16","c":"ye","k":"so","R":2650,"v":0.68},{"s":"q16","c":"ye","k":"so","R":5000,"v":0.61},{"s":"q16","c":"ye","k":"so","R":8900,"v":0.64},
{"s":"q17","c":"sg","k":"so","R":255,"v":0.55},{"s":"q17","c":"sg","k":"so","R":500,"v":0.55},{"s":"q17","c":"sg","k":"so","R":980,"v":0.55},{"s":"q17","c":"sg","k":"so","R":2000,"v":0.31},{"s":"q17","c":"sg","k":"so","R":2480,"v":0.375},{"s":"q17","c":"sg","k":"so","R":3800,"v":0.47},{"s":"q17","c":"sg","k":"so","R":6200,"v":0.78},{"s":"q17","c":"sg","k":"so","R":8900,"v":0.68},
{"s":"q18","c":"rd","k":"so","R":9.7,"v":1.45},{"s":"q18","c":"rd","k":"so","R":12.4,"v":0.92},{"s":"q18","c":"rd","k":"so","R":15.5,"v":0.49},{"s":"q18","c":"rd","k":"so","R":19,"v":0.34},{"s":"q18","c":"rd","k":"so","R":25,"v":0.3},{"s":"q18","c":"rd","k":"so","R":31,"v":0.4},{"s":"q18","c":"rd","k":"so","R":38.5,"v":0.43},{"s":"q18","c":"rd","k":"so","R":53,"v":0.4},{"s":"q18","c":"rd","k":"so","R":82,"v":0.36},{"s":"q18","c":"rd","k":"so","R":113,"v":0.36},{"s":"q18","c":"rd","k":"so","R":186,"v":0.36},{"s":"q18","c":"rd","k":"so","R":315,"v":0.39},{"s":"q18","c":"rd","k":"so","R":500,"v":0.47},{"s":"q18","c":"rd","k":"so","R":980,"v":0.47},{"s":"q18","c":"rd","k":"so","R":1600,"v":0.47},{"s":"q18","c":"rd","k":"so","R":2480,"v":0.31},{"s":"q18","c":"rd","k":"so","R":3400,"v":0.375},{"s":"q18","c":"rd","k":"so","R":5000,"v":0.47},{"s":"q18","c":"rd","k":"so","R":8900,"v":0.41},
{"s":"q19","c":"cy","k":"so","R":100,"v":0.8},{"s":"q19","c":"cy","k":"so","R":200,"v":0.8},{"s":"q19","c":"cy","k":"so","R":315,"v":0.7},{"s":"q19","c":"cy","k":"so","R":330,"v":0.31},{"s":"q19","c":"cy","k":"so","R":500,"v":0.3},{"s":"q19","c":"cy","k":"so","R":640,"v":0.3},{"s":"q19","c":"cy","k":"so","R":980,"v":0.345},{"s":"q19","c":"cy","k":"so","R":1600,"v":0.4},{"s":"q19","c":"cy","k":"so","R":2480,"v":0.49},{"s":"q19","c":"cy","k":"so","R":4300,"v":0.56},{"s":"q19","c":"cy","k":"so","R":8900,"v":0.53},
{"s":"q20","c":"gr","k":"so","R":255,"v":0.53},{"s":"q20","c":"gr","k":"so","R":500,"v":0.49},{"s":"q20","c":"gr","k":"so","R":980,"v":0.47},{"s":"q20","c":"gr","k":"so","R":2000,"v":0.47},{"s":"q20","c":"gr","k":"so","R":3400,"v":0.49},{"s":"q20","c":"gr","k":"so","R":5700,"v":0.47},{"s":"q20","c":"gr","k":"so","R":8900,"v":0.44},
{"s":"q21","c":"bl","k":"so","R":290,"v":0.71},{"s":"q21","c":"bl","k":"so","R":500,"v":0.74},{"s":"q21","c":"bl","k":"so","R":980,"v":0.61},{"s":"q21","c":"bl","k":"so","R":1600,"v":0.39},{"s":"q21","c":"bl","k":"so","R":2000,"v":0.47},{"s":"q21","c":"bl","k":"so","R":3300,"v":0.49},{"s":"q21","c":"bl","k":"so","R":8900,"v":0.47},
{"s":"q22a","c":"az","k":"dt","R":7.9,"v":9.8},{"s":"q22a","c":"az","k":"dt","R":9.7,"v":7.5},
{"s":"q22","c":"az","k":"so","R":9.7,"v":7.5},{"s":"q22","c":"az","k":"so","R":13,"v":5.6},{"s":"q22","c":"az","k":"so","R":20,"v":3.8},{"s":"q22","c":"az","k":"so","R":31,"v":2.63},{"s":"q22","c":"az","k":"so","R":48,"v":1.94},{"s":"q22","c":"az","k":"so","R":73,"v":1.67},{"s":"q22","c":"az","k":"so","R":113,"v":1.6},{"s":"q22","c":"az","k":"so","R":133,"v":1.6},{"s":"q22","c":"az","k":"so","R":186,"v":1.34},{"s":"q22","c":"az","k":"so","R":290,"v":1.24},
{"s":"q22b","c":"az","k":"dt","R":340,"v":1.16},{"s":"q22b","c":"az","k":"dt","R":500,"v":1.8},{"s":"q22b","c":"az","k":"dt","R":630,"v":2.6},
{"s":"q23","c":"az","k":"so","R":10,"v":4.3},{"s":"q23","c":"az","k":"so","R":13,"v":2.1},{"s":"q23","c":"az","k":"so","R":16.5,"v":1.1},{"s":"q23","c":"az","k":"so","R":20,"v":0.63},{"s":"q23","c":"az","k":"so","R":25,"v":0.36},{"s":"q23","c":"az","k":"so","R":31,"v":0.34},{"s":"q23","c":"az","k":"so","R":38.5,"v":0.95},{"s":"q23","c":"az","k":"so","R":59,"v":1.05},{"s":"q23","c":"az","k":"so","R":92,"v":1.3},{"s":"q23","c":"az","k":"so","R":113,"v":1.4},
{"s":"q24","c":"az","k":"so","R":38.5,"v":1.8},{"s":"q24","c":"az","k":"so","R":48,"v":1.3},{"s":"q24","c":"az","k":"so","R":59,"v":1.6},{"s":"q24","c":"az","k":"so","R":73,"v":2},{"s":"q24","c":"az","k":"so","R":82,"v":1.6},{"s":"q24","c":"az","k":"so","R":100,"v":2.1},{"s":"q24","c":"az","k":"so","R":113,"v":1.9},{"s":"q24","c":"az","k":"so","R":133,"v":1.55},{"s":"q24","c":"az","k":"so","R":165,"v":1.4},
{"s":"q25","c":"cy","k":"so","R":9.7,"v":0.88},{"s":"q25","c":"cy","k":"so","R":13,"v":1.38},{"s":"q25","c":"cy","k":"so","R":17,"v":1.58},{"s":"q25","c":"cy","k":"so","R":25,"v":1.55},{"s":"q25","c":"cy","k":"so","R":35,"v":1.34},{"s":"q25","c":"cy","k":"so","R":53,"v":1.07},{"s":"q25","c":"cy","k":"so","R":82,"v":0.92},{"s":"q25","c":"cy","k":"so","R":113,"v":0.88},{"s":"q25","c":"cy","k":"so","R":200,"v":0.85},
{"s":"q26","c":"cy","k":"so","R":9.7,"v":1.24},{"s":"q26","c":"cy","k":"so","R":13,"v":1.93},{"s":"q26","c":"cy","k":"so","R":16.5,"v":2.1},{"s":"q26","c":"cy","k":"so","R":25,"v":1.94},{"s":"q26","c":"cy","k":"so","R":38.5,"v":1.34},{"s":"q26","c":"cy","k":"so","R":59,"v":0.99},{"s":"q26","c":"cy","k":"so","R":92,"v":0.96},{"s":"q26","c":"cy","k":"so","R":113,"v":0.96},{"s":"q26","c":"cy","k":"so","R":200,"v":0.9},{"s":"q26","c":"cy","k":"so","R":315,"v":0.8},
{"s":"q27","c":"ch","k":"so","R":9.7,"v":0.79},{"s":"q27","c":"ch","k":"so","R":13,"v":0.66},{"s":"q27","c":"ch","k":"so","R":20,"v":0.58},{"s":"q27","c":"ch","k":"so","R":31,"v":0.58},{"s":"q27","c":"ch","k":"so","R":53,"v":0.56},{"s":"q27","c":"ch","k":"so","R":92,"v":0.56},{"s":"q27","c":"ch","k":"so","R":200,"v":0.6},{"s":"q27","c":"ch","k":"so","R":400,"v":0.62},
{"s":"q28","c":"gr","k":"so","R":9.7,"v":3.55},{"s":"q28","c":"gr","k":"so","R":13,"v":1.82},{"s":"q28","c":"gr","k":"so","R":20,"v":1.1},{"s":"q28","c":"gr","k":"so","R":31,"v":0.92},{"s":"q28","c":"gr","k":"so","R":53,"v":0.79},{"s":"q28","c":"gr","k":"so","R":92,"v":0.74},{"s":"q28","c":"gr","k":"so","R":200,"v":0.62},{"s":"q28","c":"gr","k":"so","R":315,"v":0.58},
{"s":"q29","c":"sg","k":"so","R":9.7,"v":1.16},{"s":"q29","c":"sg","k":"so","R":13,"v":0.92},{"s":"q29","c":"sg","k":"so","R":20,"v":0.74},{"s":"q29","c":"sg","k":"so","R":31,"v":0.68},{"s":"q29","c":"sg","k":"so","R":53,"v":0.63},{"s":"q29","c":"sg","k":"so","R":92,"v":0.61},{"s":"q29","c":"sg","k":"so","R":200,"v":0.55},{"s":"q29","c":"sg","k":"so","R":315,"v":0.52},
{"s":"q30","c":"bl","k":"so","R":9.7,"v":1.62},{"s":"q30","c":"bl","k":"so","R":13,"v":1.55},{"s":"q30","c":"bl","k":"so","R":20,"v":1.34},{"s":"q30","c":"bl","k":"so","R":31,"v":1.24},{"s":"q30","c":"bl","k":"so","R":53,"v":1.16},{"s":"q30","c":"bl","k":"so","R":92,"v":1.16},{"s":"q30","c":"bl","k":"so","R":200,"v":1.1},{"s":"q30","c":"bl","k":"so","R":315,"v":1},
{"s":"q31","c":"bl","k":"so","R":9.7,"v":1.24},{"s":"q31","c":"bl","k":"so","R":13,"v":0.99},{"s":"q31","c":"bl","k":"so","R":20,"v":0.79},{"s":"q31","c":"bl","k":"so","R":31,"v":0.79},{"s":"q31","c":"bl","k":"so","R":53,"v":0.85},{"s":"q31","c":"bl","k":"so","R":92,"v":0.96},{"s":"q31","c":"bl","k":"so","R":200,"v":0.95},{"s":"q31","c":"bl","k":"so","R":315,"v":0.85},
{"s":"q32","c":"sg","k":"so","R":0.1,"v":2.2},{"s":"q32","c":"sg","k":"so","R":0.12,"v":4.1},{"s":"q32","c":"sg","k":"so","R":0.145,"v":11.5},{"s":"q32","c":"sg","k":"so","R":0.16,"v":14},{"s":"q32","c":"sg","k":"so","R":0.18,"v":14},{"s":"q32","c":"sg","k":"so","R":0.2,"v":11},{"s":"q32","c":"sg","k":"so","R":0.244,"v":7.2},{"s":"q32","c":"sg","k":"so","R":0.32,"v":4.8},{"s":"q32","c":"sg","k":"so","R":0.44,"v":4},{"s":"q32","c":"sg","k":"so","R":0.61,"v":3.3},{"s":"q32","c":"sg","k":"so","R":0.8,"v":3.05},{"s":"q32","c":"sg","k":"so","R":1,"v":3.4},{"s":"q32","c":"sg","k":"so","R":1.23,"v":6},{"s":"q32","c":"sg","k":"so","R":1.5,"v":7.2},{"s":"q32","c":"sg","k":"so","R":2,"v":6.4},{"s":"q32","c":"sg","k":"so","R":4,"v":3.8},
{"s":"q33","c":"gr","k":"so","R":0.1,"v":2.55},{"s":"q33","c":"gr","k":"so","R":0.123,"v":3.48},{"s":"q33","c":"gr","k":"so","R":0.157,"v":3.8},{"s":"q33","c":"gr","k":"so","R":0.2,"v":2.95},{"s":"q33","c":"gr","k":"so","R":0.256,"v":1.95},{"s":"q33","c":"gr","k":"so","R":0.34,"v":1.38},{"s":"q33","c":"gr","k":"so","R":0.4,"v":1.31},{"s":"q33","c":"gr","k":"so","R":0.49,"v":1.38},{"s":"q33","c":"gr","k":"so","R":0.61,"v":2.2},{"s":"q33","c":"gr","k":"so","R":0.8,"v":2.95},{"s":"q33","c":"gr","k":"so","R":1,"v":2.85},{"s":"q33","c":"gr","k":"so","R":1.37,"v":2.4},{"s":"q33","c":"gr","k":"so","R":1.7,"v":2.03},{"s":"q33","c":"gr","k":"so","R":2.45,"v":1.67},{"s":"q33","c":"gr","k":"so","R":4,"v":1.67},
{"s":"q34","c":"gr","k":"so","R":0.1,"v":0.22},{"s":"q34","c":"gr","k":"so","R":0.12,"v":0.18},{"s":"q34","c":"gr","k":"so","R":0.157,"v":0.153},{"s":"q34","c":"gr","k":"so","R":0.2,"v":0.16},{"s":"q34","c":"gr","k":"so","R":0.256,"v":0.22},{"s":"q34","c":"gr","k":"so","R":0.32,"v":0.36},{"s":"q34","c":"gr","k":"so","R":0.4,"v":0.63},{"s":"q34","c":"gr","k":"so","R":0.49,"v":1.24},{"s":"q34","c":"gr","k":"so","R":0.61,"v":2.35},{"s":"q34","c":"gr","k":"so","R":0.75,"v":3.05},{"s":"q34","c":"gr","k":"so","R":1,"v":3.7},{"s":"q34","c":"gr","k":"so","R":1.23,"v":4.1},{"s":"q34","c":"gr","k":"so","R":1.45,"v":4.6},{"s":"q34","c":"gr","k":"so","R":2,"v":5.4},{"s":"q34","c":"gr","k":"so","R":4,"v":4.9},
{"s":"q35","c":"cy","k":"so","R":0.1,"v":0.46},{"s":"q35","c":"cy","k":"so","R":0.12,"v":0.66},{"s":"q35","c":"cy","k":"so","R":0.157,"v":1.67},{"s":"q35","c":"cy","k":"so","R":0.2,"v":2.55},{"s":"q35","c":"cy","k":"so","R":0.256,"v":1.74},{"s":"q35","c":"cy","k":"so","R":0.32,"v":1.1},{"s":"q35","c":"cy","k":"so","R":0.4,"v":0.83},{"s":"q35","c":"cy","k":"so","R":0.49,"v":0.96},{"s":"q35","c":"cy","k":"so","R":0.64,"v":1.74},{"s":"q35","c":"cy","k":"so","R":0.84,"v":3.05},{"s":"q35","c":"cy","k":"so","R":1.17,"v":5.15},{"s":"q35","c":"cy","k":"so","R":1.45,"v":6.2},{"s":"q35","c":"cy","k":"so","R":1.6,"v":7.8},{"s":"q35","c":"cy","k":"so","R":2.45,"v":8.1},{"s":"q35","c":"cy","k":"so","R":3.2,"v":7.4},{"s":"q35","c":"cy","k":"so","R":4,"v":6.4},
{"s":"q36","c":"cy","k":"so","R":0.1,"v":0.31},{"s":"q36","c":"cy","k":"so","R":0.134,"v":0.22},{"s":"q36","c":"cy","k":"so","R":0.157,"v":0.18},{"s":"q36","c":"cy","k":"so","R":0.2,"v":0.153},{"s":"q36","c":"cy","k":"so","R":0.25,"v":0.16},{"s":"q36","c":"cy","k":"so","R":0.32,"v":0.2},{"s":"q36","c":"cy","k":"so","R":0.4,"v":0.27},{"s":"q36","c":"cy","k":"so","R":0.52,"v":0.36},{"s":"q36","c":"cy","k":"so","R":0.67,"v":0.53},{"s":"q36","c":"cy","k":"so","R":0.93,"v":0.74},{"s":"q36","c":"cy","k":"so","R":1.28,"v":0.85},{"s":"q36","c":"cy","k":"so","R":1.6,"v":0.96},{"s":"q36","c":"cy","k":"so","R":2.45,"v":1.2},{"s":"q36","c":"cy","k":"so","R":4,"v":1.3},
{"s":"q37","c":"cy","k":"so","R":0.1,"v":0.68},{"s":"q37","c":"cy","k":"so","R":0.157,"v":0.49},{"s":"q37","c":"cy","k":"so","R":0.2,"v":0.29},{"s":"q37","c":"cy","k":"so","R":0.256,"v":0.36},{"s":"q37","c":"cy","k":"so","R":0.34,"v":0.45},{"s":"q37","c":"cy","k":"so","R":0.4,"v":0.56},{"s":"q37","c":"cy","k":"so","R":0.49,"v":0.83},{"s":"q37","c":"cy","k":"so","R":0.61,"v":1.74},{"s":"q37","c":"cy","k":"so","R":0.75,"v":1.55},{"s":"q37","c":"cy","k":"so","R":0.93,"v":1.5},{"s":"q37","c":"cy","k":"so","R":1.17,"v":1.24},{"s":"q37","c":"cy","k":"so","R":1.6,"v":0.96},{"s":"q37","c":"cy","k":"so","R":2,"v":1.03},{"s":"q37","c":"cy","k":"so","R":2.9,"v":1.34},{"s":"q37","c":"cy","k":"so","R":4,"v":1.3},
{"s":"dq1","c":"vi","k":"dt","R":4,"v":6.1},{"s":"dq1","c":"vi","k":"dt","R":5.5,"v":5},{"s":"dq1","c":"vi","k":"dt","R":7,"v":3.8},{"s":"dq1","c":"vi","k":"dt","R":8.5,"v":2.5},{"s":"dq1","c":"vi","k":"dt","R":9.7,"v":1.8},
{"s":"dq2","c":"cy","k":"dt","R":4,"v":6.4},{"s":"dq2","c":"cy","k":"dt","R":5,"v":5.6},{"s":"dq2","c":"cy","k":"dt","R":6.5,"v":3.8},{"s":"dq2","c":"cy","k":"dt","R":7.6,"v":2.2},{"s":"dq2","c":"cy","k":"dt","R":8.2,"v":0.49},{"s":"dq2","c":"cy","k":"dt","R":9.7,"v":0.88},
{"s":"dq3","c":"gr","k":"dt","R":4,"v":1.67},{"s":"dq3","c":"gr","k":"dt","R":6,"v":2.2},{"s":"dq3","c":"gr","k":"dt","R":8,"v":1.9},{"s":"dq3","c":"gr","k":"dt","R":9.7,"v":3.55},
{"s":"dq4","c":"sg","k":"dt","R":4,"v":3.8},{"s":"dq4","c":"sg","k":"dt","R":6,"v":3},{"s":"dq4","c":"sg","k":"dt","R":8,"v":2.2},{"s":"dq4","c":"sg","k":"dt","R":9.7,"v":1.16},
{"s":"dq5","c":"bl","k":"dt","R":4,"v":1.98},{"s":"dq5","c":"bl","k":"dt","R":6,"v":2},{"s":"dq5","c":"bl","k":"dt","R":8,"v":1.8},{"s":"dq5","c":"bl","k":"dt","R":9.7,"v":1.62},
{"s":"dq6","c":"vi","k":"dt","R":4,"v":1.34},{"s":"dq6","c":"vi","k":"dt","R":6,"v":1.3},{"s":"dq6","c":"vi","k":"dt","R":8,"v":1.3},{"s":"dq6","c":"vi","k":"dt","R":9.7,"v":1.34},
{"s":"dq7","c":"rd","k":"dt","R":8,"v":1.2},{"s":"dq7","c":"rd","k":"dt","R":9.7,"v":1.45},
{"s":"dq8","c":"ch","k":"dt","R":8,"v":1},{"s":"dq8","c":"ch","k":"dt","R":9.7,"v":0.79},
{"s":"dq9","c":"gr","k":"dt","R":4,"v":4.9},{"s":"dq9","c":"gr","k":"dt","R":6,"v":3.5},{"s":"dq9","c":"gr","k":"dt","R":8,"v":2.3},{"s":"dq9","c":"gr","k":"dt","R":9.7,"v":1.24},
{"s":"dq10","c":"cy","k":"dt","R":4,"v":1.3},{"s":"dq10","c":"cy","k":"dt","R":6,"v":1.5},{"s":"dq10","c":"cy","k":"dt","R":8,"v":1.6},{"s":"dq10","c":"cy","k":"dt","R":9.7,"v":1.24},
{"s":"rq1","c":"gr","k":"dt","R":160,"v":0.56},{"s":"rq1","c":"gr","k":"dt","R":250,"v":0.5},{"s":"rq1","c":"gr","k":"dt","R":400,"v":0.5},{"s":"rq1","c":"gr","k":"dt","R":600,"v":0.47},
{"s":"rq2","c":"rd","k":"dt","R":160,"v":0.44},{"s":"rq2","c":"rd","k":"dt","R":250,"v":0.43},{"s":"rq2","c":"rd","k":"dt","R":400,"v":0.44},
{"s":"rq3","c":"ch","k":"dt","R":300,"v":0.6},{"s":"rq3","c":"ch","k":"dt","R":450,"v":0.58},{"s":"rq3","c":"ch","k":"dt","R":600,"v":0.6},
{"s":"rq4","c":"sg","k":"dt","R":315,"v":0.52},{"s":"rq4","c":"sg","k":"dt","R":450,"v":0.7},{"s":"rq4","c":"sg","k":"dt","R":600,"v":0.95},
{"s":"rq5","c":"cy","k":"dt","R":315,"v":0.8},{"s":"rq5","c":"cy","k":"dt","R":450,"v":0.9},{"s":"rq5","c":"cy","k":"dt","R":600,"v":1},
{"s":"rq6","c":"bl","k":"dt","R":315,"v":1},{"s":"rq6","c":"bl","k":"dt","R":450,"v":0.85},{"s":"rq6","c":"bl","k":"dt","R":600,"v":1}
]
},
"vconcat":[
{
 "width":704,"height":426,
 "data":{"name":"top"},
 "layer":[
  {"transform":[{"filter":{"field":"k","oneOf":["so","dt"]}}],
   "mark":{"type":"line","clip":true,"strokeCap":"butt","strokeJoin":"round"},
   "encoding":{
    "x":{"field":"R","type":"quantitative","scale":{"type":"log","domain":[0.1,9000],"nice":false},
      "axis":{"orient":"bottom","values":[0.1,0.2,0.3,0.4,0.5,0.6,0.7,0.8,0.9,1,2,3,4,5,6,7,8,9,10,20,30,40,50,60,70,80,90,100,200,300,400,500,600,700,800,900,1000,2000,3000,4000,5000,6000,7000,8000,9000],"labels":false,"title":null,
      "tickSize":{"condition":{"test":"abs(log(datum.value)/LN10-round(log(datum.value)/LN10))<0.001","value":-9},"value":-5}}},
    "y":{"field":"v","type":"quantitative","scale":{"type":"log","domain":[0.01,1],"nice":false},
      "axis":{"orient":"left","values":[0.01,0.02,0.03,0.04,0.05,0.06,0.07,0.08,0.09,0.1,0.2,0.3,0.4,0.5,0.6,0.7,0.8,0.9,1],"format":".2f",
      "labelExpr":"abs(log(datum.value)/LN10-round(log(datum.value)/LN10))<0.001 ? datum.label : ''",
      "labelPadding":21,"labelFlush":true,"title":"z₀ / R","titlePadding":16,
      "tickSize":{"condition":{"test":"abs(log(datum.value)/LN10-round(log(datum.value)/LN10))<0.001","value":-9},"value":-5}}},
    "color":{"field":"c","type":"nominal","legend":null,"scale":{"domain":["pu","vi","bl","az","cy","sg","gr","ch","ye","or","rd"],"range":["#4B0C8A","#3A0BD8","#1414E6","#1A6EF0","#14DCF5","#12EC82","#25DC12","#96EE00","#DDF000","#FFBE00","#FF3C00"]}},
    "strokeDash":{"field":"k","type":"nominal","legend":null,"scale":{"domain":["so","dt","dd","da"],"range":[[1,0],[2.5,5],[10,5,3,5],[12,7]]}},
    "strokeWidth":{"field":"k","type":"nominal","legend":null,"scale":{"domain":["so","dt","dd","da"],"range":[2.2,2.6,4.2,4.2]}},
    "detail":{"field":"s","type":"nominal"}
   }},
  {"transform":[{"filter":{"field":"k","oneOf":["dd","da"]}}],
   "mark":{"type":"line","clip":true,"strokeCap":"butt","strokeJoin":"round"},
   "encoding":{
    "x":{"field":"R","type":"quantitative","axis":null},
    "y":{"field":"v","type":"quantitative","axis":null},
    "color":{"field":"c","type":"nominal","legend":null},
    "strokeDash":{"field":"k","type":"nominal","legend":null},
    "strokeWidth":{"field":"k","type":"nominal","legend":null},
    "detail":{"field":"s","type":"nominal"}
   }},
  {"mark":{"type":"line","opacity":0},
   "encoding":{
    "x":{"field":"R","type":"quantitative","axis":{"orient":"top","values":[0.1,0.2,0.3,0.4,0.5,0.6,0.7,0.8,0.9,1,2,3,4,5,6,7,8,9,10,20,30,40,50,60,70,80,90,100,200,300,400,500,600,700,800,900,1000,2000,3000,4000,5000,6000,7000,8000,9000],"labels":false,"title":null,
      "tickSize":{"condition":{"test":"abs(log(datum.value)/LN10-round(log(datum.value)/LN10))<0.001","value":-9},"value":-5}}},
    "y":{"field":"v","type":"quantitative","axis":{"orient":"right","values":[0.01,0.02,0.03,0.04,0.05,0.06,0.07,0.08,0.09,0.1,0.2,0.3,0.4,0.5,0.6,0.7,0.8,0.9,1],"labels":false,"title":null,
      "tickSize":{"condition":{"test":"abs(log(datum.value)/LN10-round(log(datum.value)/LN10))<0.001","value":-9},"value":-5}}},
    "detail":{"field":"s","type":"nominal"}
   }}
 ],
 "resolve":{"axis":{"x":"independent","y":"independent"}}
},
{
 "width":704,"height":426,
 "data":{"name":"bot"},
 "layer":[
  {"transform":[{"filter":{"field":"k","oneOf":["so","dt"]}}],
   "mark":{"type":"line","clip":true,"strokeCap":"butt","strokeJoin":"round"},
   "encoding":{
    "x":{"field":"R","type":"quantitative","scale":{"type":"log","domain":[0.1,9000],"nice":false},
      "axis":{"orient":"bottom","values":[0.1,0.2,0.3,0.4,0.5,0.6,0.7,0.8,0.9,1,2,3,4,5,6,7,8,9,10,20,30,40,50,60,70,80,90,100,200,300,400,500,600,700,800,900,1000,2000,3000,4000,5000,6000,7000,8000,9000],"format":"~g",
      "labelExpr":"abs(log(datum.value)/LN10-round(log(datum.value)/LN10))<0.001 ? datum.label : ''",
      "labelPadding":22,"title":"R\u00a0 [pc]","titlePadding":2,
      "tickSize":{"condition":{"test":"abs(log(datum.value)/LN10-round(log(datum.value)/LN10))<0.001","value":-9},"value":-5}}},
    "y":{"field":"v","type":"quantitative","scale":{"type":"log","domain":[0.0914,10.95],"nice":false},
      "axis":{"orient":"left","values":[0.1,0.2,0.3,0.4,0.5,0.6,0.7,0.8,0.9,1,2,3,4,5,6,7,8,9,10],"format":"~g",
      "labelExpr":"abs(log(datum.value)/LN10-round(log(datum.value)/LN10))<0.001 ? datum.label : ''",
      "labelPadding":20,"title":"Qgas(R)","titlePadding":20,
      "tickSize":{"condition":{"test":"abs(log(datum.value)/LN10-round(log(datum.value)/LN10))<0.001","value":-9},"value":-5}}},
    "color":{"field":"c","type":"nominal","legend":null},
    "strokeDash":{"field":"k","type":"nominal","legend":null},
    "strokeWidth":{"field":"k","type":"nominal","legend":null},
    "detail":{"field":"s","type":"nominal"}
   }},
  {"transform":[{"filter":{"field":"k","oneOf":["dd","da"]}}],
   "mark":{"type":"line","clip":true,"strokeCap":"butt","strokeJoin":"round"},
   "encoding":{
    "x":{"field":"R","type":"quantitative","axis":null},
    "y":{"field":"v","type":"quantitative","axis":null},
    "color":{"field":"c","type":"nominal","legend":null},
    "strokeDash":{"field":"k","type":"nominal","legend":null},
    "strokeWidth":{"field":"k","type":"nominal","legend":null},
    "detail":{"field":"s","type":"nominal"}
   }},
  {"mark":{"type":"line","opacity":0},
   "encoding":{
    "x":{"field":"R","type":"quantitative","axis":{"orient":"top","values":[0.1,0.2,0.3,0.4,0.5,0.6,0.7,0.8,0.9,1,2,3,4,5,6,7,8,9,10,20,30,40,50,60,70,80,90,100,200,300,400,500,600,700,800,900,1000,2000,3000,4000,5000,6000,7000,8000,9000],"labels":false,"title":null,
      "tickSize":{"condition":{"test":"abs(log(datum.value)/LN10-round(log(datum.value)/LN10))<0.001","value":-9},"value":-5}}},
    "y":{"field":"v","type":"quantitative","axis":{"orient":"right","values":[0.1,0.2,0.3,0.4,0.5,0.6,0.7,0.8,0.9,1,2,3,4,5,6,7,8,9,10],"labels":false,"title":null,
      "tickSize":{"condition":{"test":"abs(log(datum.value)/LN10-round(log(datum.value)/LN10))<0.001","value":-9},"value":-5}}},
    "detail":{"field":"s","type":"nominal"}
   }}
 ],
 "resolve":{"axis":{"x":"independent","y":"independent"}}
}
]
}
